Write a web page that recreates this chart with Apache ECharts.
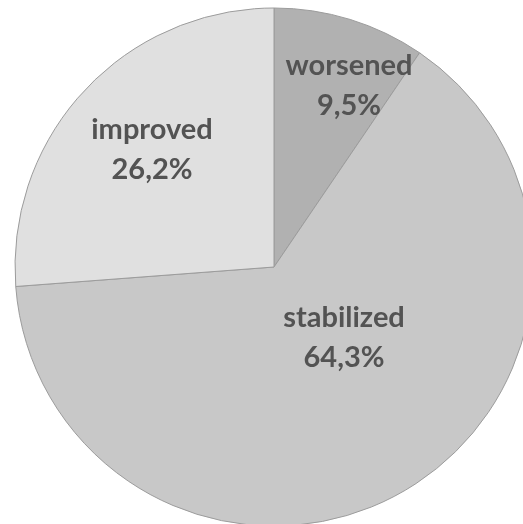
<!DOCTYPE html>
<html>
<head>
<meta charset="utf-8">
<script src="https://cdn.jsdelivr.net/npm/echarts@6/dist/echarts.min.js"></script>
<style>
  html, body { margin: 0; padding: 0; background: #ffffff; }
  #chart { width: 523px; height: 524px; }
</style>
</head>
<body>
<div id="chart"></div>
<script>
// Outcome shares (percent), in clockwise order from 12 o'clock
var categories = ['worsened', 'stabilized', 'improved'];
var shares = [9.5, 64.3, 26.2];
var sliceColors = ['#b1b1b1', '#c8c8c8', '#e0e0e0'];

// Label anchor points (px) for each slice
var labelSpots = [[349, 86], [344, 338], [152, 150]];

var chart = echarts.init(document.getElementById('chart'), null, { renderer: 'canvas' });

chart.setOption({
  backgroundColor: '#ffffff',
  animation: false,
  series: [{
    type: 'pie',
    center: [274, 267],
    radius: 259,
    startAngle: 90,
    clockwise: true,
    avoidLabelOverlap: false,
    itemStyle: { borderColor: '#9c9c9c', borderWidth: 1 },
    label: {
      show: true,
      position: 'inside',
      formatter: function (p) { return p.name + '\n' + String(p.value.toFixed(1)).replace('.', ',') + '%'; },
      fontFamily: 'Lato',
      fontWeight: 'bold',
      fontSize: 29,
      lineHeight: 40,
      color: '#535353'
    },
    labelLine: { show: false },
    labelLayout: function (params) {
      var s = labelSpots[params.dataIndex];
      return { x: s[0], y: s[1], align: 'center', verticalAlign: 'middle' };
    },
    emphasis: { disabled: true },
    data: categories.map(function (c, i) {
      return { name: c, value: shares[i], itemStyle: { color: sliceColors[i] } };
    })
  }]
});
</script>
</body>
</html>
